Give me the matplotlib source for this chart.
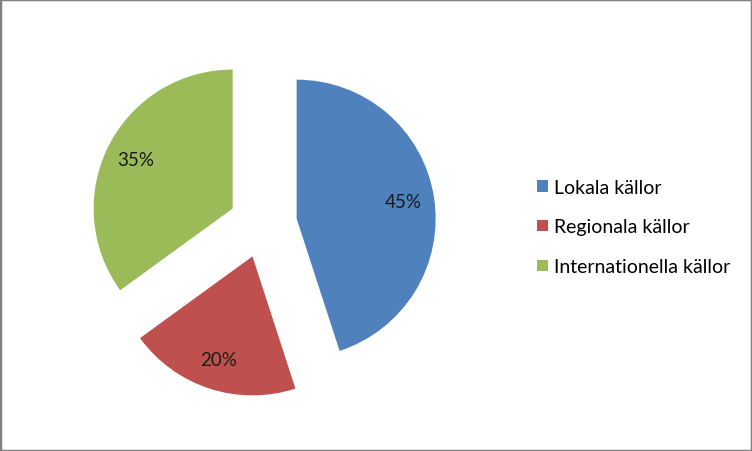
import matplotlib
matplotlib.use("Agg")
import matplotlib.pyplot as plt
from matplotlib.patches import Rectangle

# Data
labels = ["Lokala källor", "Regionala källor", "Internationella källor"]
shares = [45, 20, 35]
colors = ["#4F81BD", "#C0504D", "#9BBB59"]

plt.rcParams['font.family'] = ['Lato', 'DejaVu Sans']

fig = plt.figure(figsize=(7.52, 4.52), dpi=100)
ax = fig.add_axes([0, 0, 1, 1])

wedges, texts, autotexts = ax.pie(
    shares,
    colors=colors,
    startangle=90,
    counterclock=False,
    explode=[0.245] * len(shares),
    autopct='%1.0f%%',
    pctdistance=0.78,
    textprops={'fontsize': 13.5, 'color': '#1a1a1a'},
)

# map data units to pixels: radius ~139 px, centre at (263, 225) px
r_px = 139.0
cx, cy = 263.0, 225.0
ax.set_xlim(-cx / r_px, (752 - cx) / r_px)
ax.set_ylim(-(452 - cy) / r_px, cy / r_px)
ax.set_aspect('equal')
ax.axis('off')

ax.legend(wedges, labels, loc='center left',
          bbox_to_anchor=(537 / 752, 1 - 228 / 452), bbox_transform=fig.transFigure,
          frameon=False, fontsize=14, borderpad=0, borderaxespad=0,
          handlelength=0.55, handleheight=0.55, handletextpad=0.35,
          labelspacing=1.18)

# grey border round the chart area
fig.patches.append(Rectangle((0, 0), 1, 1, transform=fig.transFigure,
                             fill=False, edgecolor='#808080', linewidth=2.5))

fig.savefig("out.png", dpi=100)
